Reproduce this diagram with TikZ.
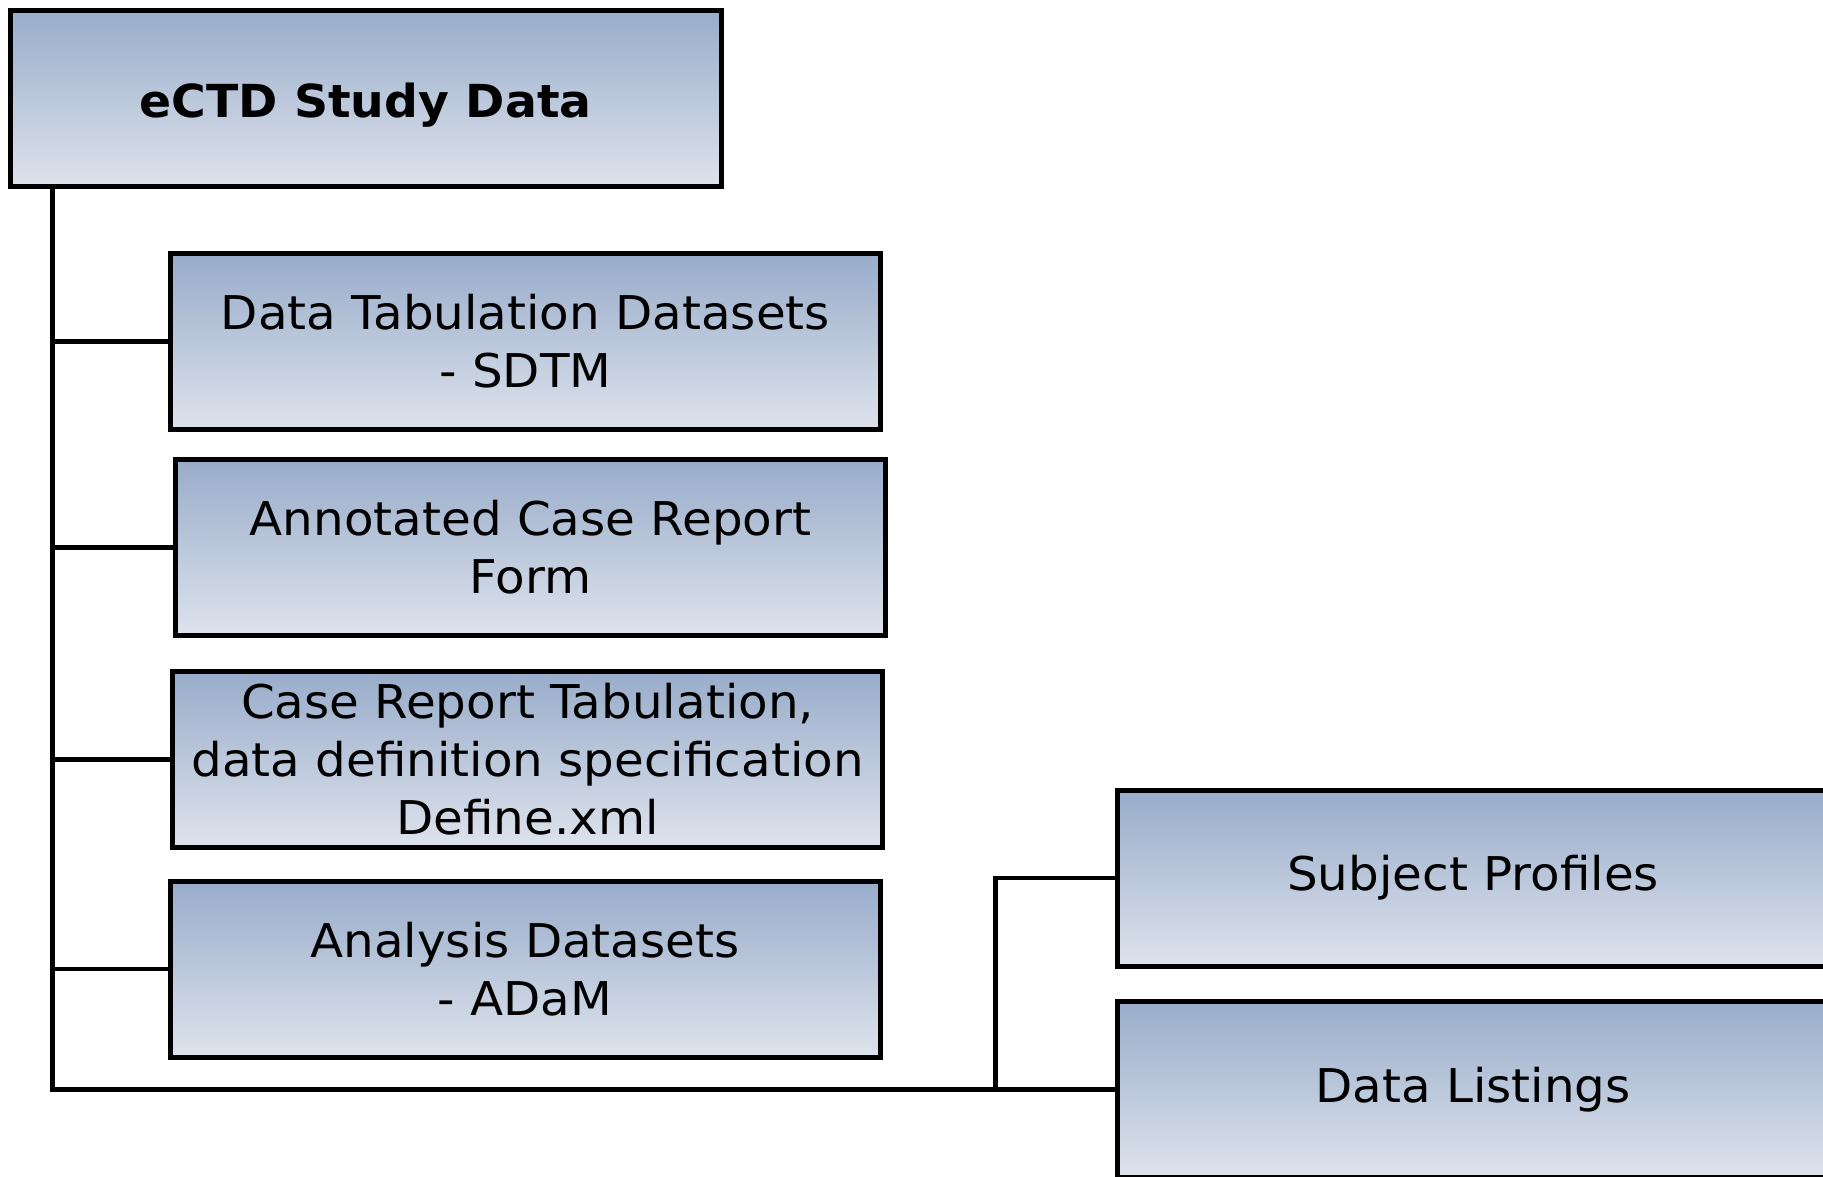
\documentclass[tikz,border=0pt]{standalone}
\usepackage{fontspec}
\setmainfont[FakeStretch=1.04]{DejaVu Sans}
\definecolor{boxtop}{RGB}{152,172,202}
\definecolor{boxbot}{RGB}{222,227,236}
\begin{document}
\begin{tikzpicture}[x=1pt,y=-1pt,
  box/.style={draw=black, line width=5pt, rectangle, top color=boxtop, bottom color=boxbot,
    minimum width=710pt, minimum height=176pt, align=center, inner sep=0pt,
    font=\fontsize{46.5}{58}\selectfont},
  link/.style={draw=black, line width=4.5pt}]
\clip (0,0) rectangle (1823,1177);
\useasboundingbox (0,0) rectangle (1823,1177);
\fill[white] (0,0) rectangle (1823,1177);
\node[box, minimum width=711pt, font=\fontsize{45.5}{58}\selectfont\bfseries] (top) at (365.5,98.5) {\raisebox{-7pt}[\height][\depth]{eCTD Study Data}};
\node[box] (b1) at (525.5,341.5) {Data Tabulation Datasets\\- SDTM};
\node[box] (b2) at (530.5,547.5) {Annotated Case Report\\Form};
\node[box] (b3) at (527.5,759.5) {Case Report Tabulation,\\data definition specification\\Define.xml};
\node[box] (b4) at (525,969) {Analysis Datasets\\- ADaM};
\node[box, minimum width=740pt] (sp) at (1487,878) {\hspace*{-28pt}Subject Profiles};
\node[box, minimum width=740pt] (dl) at (1487,1089.5) {\hspace*{-28pt}Data Listings};
\coordinate (t) at ([xshift=45pt]top.south west);
\coordinate (j) at ([xshift=-119pt]dl.west);
\draw[link] (t) |- (dl.west);
\draw[link] (t |- b1.west) -- (b1.west);
\draw[link] (t |- b2.west) -- (b2.west);
\draw[link] (t |- b3.west) -- (b3.west);
\draw[link] (t |- b4.west) -- (b4.west);
\draw[link] (sp.west) -| (j);
\end{tikzpicture}
\end{document}
